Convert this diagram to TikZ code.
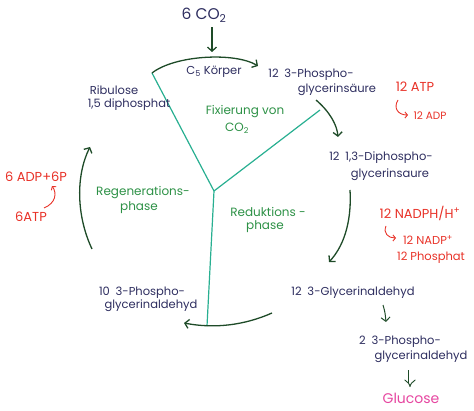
\documentclass[tikz,border=0pt]{standalone}
\usepackage{fontspec}
\setmainfont{Poppins}
\usetikzlibrary{arrows.meta}
\definecolor{darkarrow}{RGB}{30,75,40}
\definecolor{phasegreen}{RGB}{45,145,70}
\definecolor{yteal}{RGB}{40,175,145}
\definecolor{inkblue}{RGB}{45,45,95}
\definecolor{inkred}{RGB}{232,50,40}
\definecolor{inkpink}{RGB}{230,70,160}
\begin{document}
\begin{tikzpicture}[x=1pt,y=-1pt,
  stuff/.style={inkblue, font=\fontsize{11.5}{13}\selectfont, inner sep=0pt},
  phasetext/.style={phasegreen, font=\fontsize{12}{14}\selectfont, inner sep=0pt},
  energy/.style={inkred, font=\fontsize{13}{15}\selectfont, inner sep=0pt},
  cyclearrow/.style={darkarrow, line width=1.3pt, -{Straight Barb[length=4pt,width=9pt]}},
  hookarrow/.style={inkred, line width=0.9pt, -{Straight Barb[length=2.5pt,width=6pt]}},
  yline/.style={yteal, line width=1.2pt}]
\useasboundingbox (0,0) rectangle (474,411);

%the Y in the middle
\coordinate (J) at (214,191);
\coordinate (yl) at (152,73);
\coordinate (yr) at (320,110);
\coordinate (yb) at (207,326);
\draw[yline] (J) -- (yl);
\draw[yline] (J) -- (yr);
\draw[yline] (J) -- (yb);

\node[stuff, font=\fontsize{15.5}{17}\selectfont] (co2) at (204,15) {6 CO\textsubscript{2}};
\node[stuff] (c5) at (214,72) {C\textsubscript{5} Körper};
\node[stuff] (pga1) at (311,75) {12\enspace 3-Phospho-}; %fixation product
\node[stuff] (pga2) at (337,90) {glycerinsäure};
\node[stuff] (bpg1) at (381,158) {12\enspace 1,3-Diphospho-};
\node[stuff] (bpg2) at (390,175) {glycerinsaure};
\node[stuff] (gap) at (353,293) {12\enspace 3-Glycerinaldehyd};
\node[stuff] (pgal1) at (400,342) {2\enspace 3-Phospho-}; %leaves the cycle
\node[stuff] (pgal2) at (421,357) {glycerinaldehyd};
\node[inkpink, font=\fontsize{14}{16}\selectfont, inner sep=0pt] (glc) at (411,398) {Glucose};
\node[stuff] (tpgal1) at (142,293) {10\enspace 3-Phospho-};
\node[stuff] (tpgal2) at (151,306) {glycerinaldehyd};
\node[stuff] (rub1) at (114,90) {Ribulose};
\node[stuff] (rub2) at (129,105) {1,5 diphosphat};

%phases
\node[phasetext] (fix1) at (245,112) {Fixierung von};
\node[phasetext] (fix2) at (237,128) {CO\textsubscript{2}};
\node[phasetext] (reg1) at (143,193) {Regenerations-};
\node[phasetext] (reg2) at (139,208) {phase};
\node[phasetext] (redu1) at (268,212) {Reduktions -};
\node[phasetext] (redu2) at (265,227) {phase};

%energy
\node[energy] (atp) at (415,87) {12 ATP};
\node[energy, font=\fontsize{10.5}{12}\selectfont] (adp) at (430,116) {12 ADP};
\node[energy] (nadph) at (420,213) {12 NADPH/H\textsuperscript{+}};
\node[energy, font=\fontsize{11.5}{13}\selectfont] (nadp) at (428,240) {12 NADP\textsuperscript{+}};
\node[energy, font=\fontsize{11.5}{13}\selectfont] (pho) at (431,258) {12 Phosphat};
\node[energy] (adp6) at (36,177) {6 ADP+6P};
\node[energy] (atp6) at (31,217) {6ATP};

%cycle arrows
\draw[cyclearrow] (co2.south) ++(8,5) coordinate (co2s) -- (212,52) coordinate (co2e);
\coordinate (topend) at (258,66);
\draw[cyclearrow] (yl) .. controls (175,55) and (235,52) .. (topend);
\coordinate (r1s) at (316,100);
\coordinate (r1e) at (338,137);
\draw[cyclearrow] (r1s) .. controls (330,112) and (337,125) .. (r1e);
\coordinate (r2s) at (350,190);
\coordinate (r2e) at (329,262);
\draw[cyclearrow] (r2s) .. controls (352,225) and (342,248) .. (r2e);
\coordinate (bs) at (272,313);
\coordinate (be) at (184,323);
\draw[cyclearrow] (bs) .. controls (245,325) and (215,329) .. (be);
\coordinate (ls) at (92,249);
\coordinate (le) at (90,147);
\draw[cyclearrow] (ls) .. controls (76,215) and (76,175) .. (le);

%small arrows
\draw[cyclearrow, line width=1pt] (gap.south) ++(30,6) coordinate (gs) .. controls (385,312) .. (386,322) coordinate (ge);
\draw[darkarrow, line width=0.9pt, double distance=3pt, -{Implies[scale=2]}] (pgal2.south) ++(-11,7) -- ++(0,17);
\draw[hookarrow] (398,100) .. controls (393,108) and (398,115) .. (408,115);
\draw[hookarrow] (386,226) .. controls (383,233) and (388,238) .. (396,238);
\draw[hookarrow] (44,208) .. controls (56,203) and (57,193) .. (52,186);
\end{tikzpicture}
\end{document}
